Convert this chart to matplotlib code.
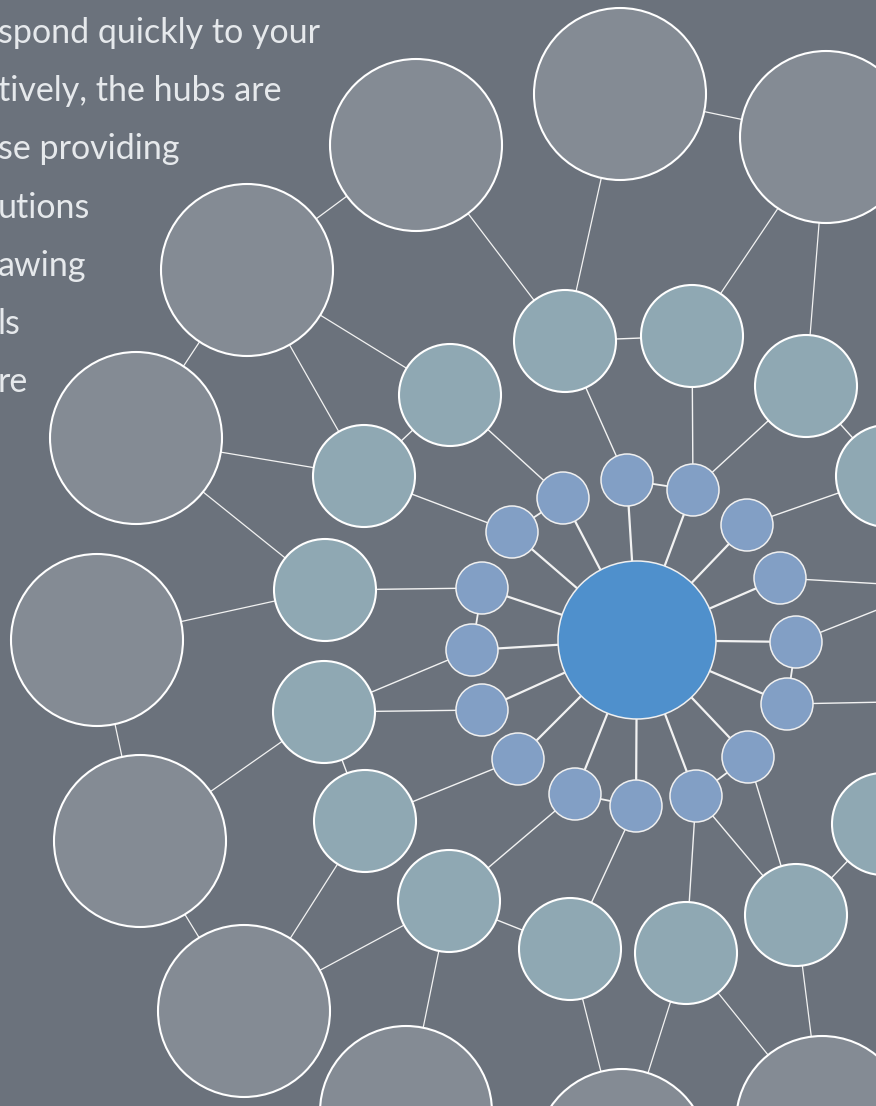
import matplotlib
matplotlib.use("Agg")

import matplotlib.pyplot as plt
from matplotlib.patches import Circle


# 1. node data (pixel coordinates, y grows downward)
# central hub
hub_x, hub_y = 637, 640

# first ring: small nodes around the hub
ring1_x = [563, 512, 627, 693, 747, 780, 796, 787, 748, 696, 636, 575, 518, 482, 472, 482]
ring1_y = [498, 532, 480, 490, 525, 578, 642, 704, 757, 796, 806, 794, 759, 710, 650, 588]

# second ring: medium nodes (4 and 5 sit just past the right edge)
ring2_x = [565, 692, 806, 887, 935, 940, 883, 796, 686, 570, 449, 365, 324, 325, 364, 450]
ring2_y = [341, 336, 386, 476, 587, 701, 824, 915, 953, 949, 901, 821, 712, 590, 476, 395]

# third ring: large nodes
ring3_x = [620, 826, 416, 247, 136, 97, 140, 244, 406, 622, 822]
ring3_y = [94, 137, 145, 270, 438, 640, 841, 1011, 1112, 1155, 1122]

# links between rings (index pairs)
links_11 = [(0, 1), (2, 3), (15, 14), (6, 7), (11, 10), (9, 8)]
links_12 = [(2, 0), (3, 1), (3, 2), (4, 3), (5, 4), (6, 4), (7, 5), (8, 7), (9, 7),
            (9, 8), (10, 9), (11, 10), (12, 11), (13, 12), (14, 12), (15, 13), (1, 14), (0, 15)]
links_22 = [(0, 1), (2, 3), (14, 15), (11, 12), (10, 9), (7, 6)]
links_23 = [(0, 0), (0, 2), (1, 1), (2, 1), (15, 3), (14, 3), (14, 4), (13, 4), (13, 5),
            (12, 6), (11, 7), (10, 7), (10, 8), (9, 9), (8, 9), (8, 10), (7, 10)]
links_33 = [(0, 1), (2, 3), (3, 4), (5, 6), (6, 7)]

# text fragments on the upper left (cut by the left edge)
text_lines = [
    "spond quickly to your",
    "tively, the hubs are",
    "se providing",
    "utions",
    "awing",
    "ls",
    "re",
]

# 2. style
bg_color = "#6b727c"
hub_color = "#4f90cc"
ring1_color = "#829fc5"
ring2_color = "#8fa8b3"
ring3_color = "#848b94"
edge_color = "#f2f2f2"

# 3. figure
fig = plt.figure(figsize=(8.76, 11.06), dpi=100, facecolor=bg_color)
ax = fig.add_axes([0, 0, 1, 1])
ax.set_facecolor(bg_color)
ax.set_xlim(0, 876)
ax.set_ylim(1106, 0)
ax.set_aspect("equal")
ax.axis("off")


def draw_link(x0, y0, x1, y1, lw):
    ax.plot([x0, x1], [y0, y1], color=edge_color, lw=lw, zorder=1,
            solid_capstyle="butt")


# hub spokes (a bit thicker)
for i in range(len(ring1_x)):
    draw_link(hub_x, hub_y, ring1_x[i], ring1_y[i], 1.6)

for a, b in links_11:
    draw_link(ring1_x[a], ring1_y[a], ring1_x[b], ring1_y[b], 1.3)
for a, b in links_12:
    draw_link(ring1_x[a], ring1_y[a], ring2_x[b], ring2_y[b], 1.0)
for a, b in links_22:
    draw_link(ring2_x[a], ring2_y[a], ring2_x[b], ring2_y[b], 1.0)
for a, b in links_23:
    draw_link(ring2_x[a], ring2_y[a], ring3_x[b], ring3_y[b], 0.9)
for a, b in links_33:
    draw_link(ring3_x[a], ring3_y[a], ring3_x[b], ring3_y[b], 0.9)

# circles on top of the links
for x, y in zip(ring3_x, ring3_y):
    ax.add_patch(Circle((x, y), 86, facecolor=ring3_color, edgecolor="white", lw=1.5, zorder=2))
for x, y in zip(ring2_x, ring2_y):
    ax.add_patch(Circle((x, y), 51, facecolor=ring2_color, edgecolor="white", lw=1.5, zorder=3))
for x, y in zip(ring1_x, ring1_y):
    ax.add_patch(Circle((x, y), 26, facecolor=ring1_color, edgecolor="#f0f0f0", lw=1.1, zorder=4))
ax.add_patch(Circle((hub_x, hub_y), 79, facecolor=hub_color, edgecolor="#f0f0f0", lw=1.1, zorder=5))

# 4. text block
for i, line in enumerate(text_lines):
    ax.text(-2, 43 + 58.2 * i, line, color="#e6e9ec", fontsize=24.5,
            family=["Lato", "DejaVu Sans"], fontweight="normal",
            ha="left", va="baseline", zorder=6)

fig.savefig("out.png", dpi=100, facecolor=bg_color)
